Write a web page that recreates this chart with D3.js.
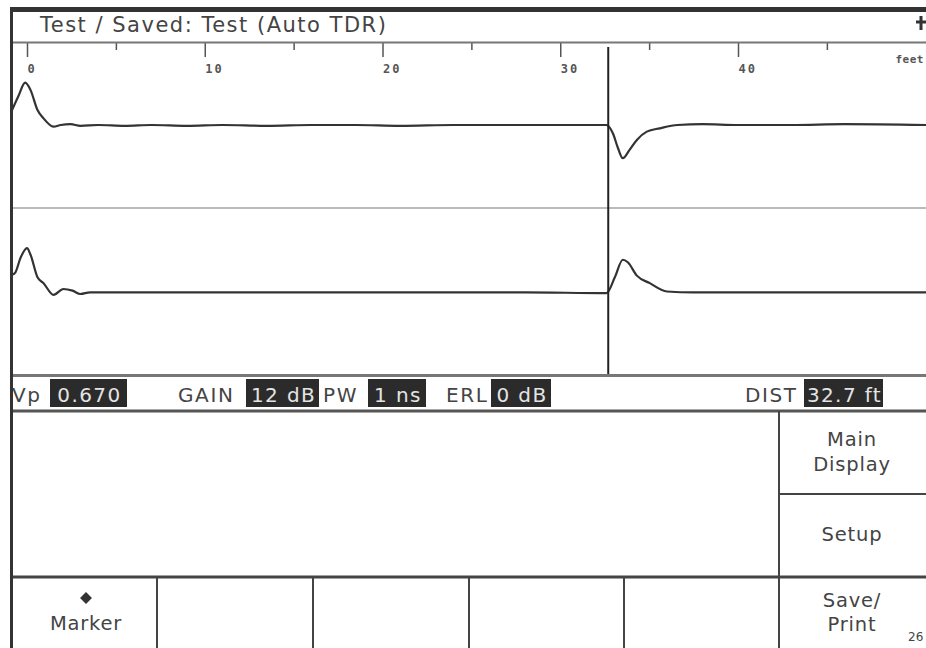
<!DOCTYPE html>
<html>
<head>
<meta charset="utf-8">
<script src="https://cdn.jsdelivr.net/npm/d3@7"></script>
<style>
  html, body { margin: 0; padding: 0; background: #fff; }
  svg { display: block; }
  .ui { font-family: "DejaVu Sans", sans-serif; fill: #444; }
  .tick text { font-family: "DejaVu Sans Mono", monospace; font-weight: bold; font-size: 12px; fill: #555; letter-spacing: 2px; }
</style>
</head>
<body>
<div id="chart"></div>
<script>
// distance axis (feet)
const majorTicks = [0, 10, 20, 30, 40];
const minorTicks = [5, 15, 25, 35, 45];
const cursorFt = 32.7;

// trace 1 (upper) : distance in ft, relative amplitude
const upperDist = [-0.84, -0.5, -0.1, 0.2, 0.59, 0.93, 1.49, 1.9, 2.45, 3.0, 4.0, 5.5, 7.0, 9.0, 11.0, 13.5, 16.0, 18.5, 21.0, 24.0, 27.0, 30.0, 32.6,
  32.96, 33.25, 33.52, 33.9, 34.31, 34.87, 35.6, 36.6, 38.0, 40.0, 43.0, 46.0, 50.6];
const upperAmp = [0.18, 0.34, 0.51, 0.42, 0.18, 0.08, -0.02, 0.0, 0.01, -0.01, 0.0, -0.01, 0.0, -0.01, 0.0, -0.01, 0.0, 0.0, -0.01, 0.0, 0.0, 0.0, 0.0,
  -0.10, -0.28, -0.40, -0.30, -0.18, -0.08, -0.04, 0.0, 0.01, 0.0, 0.0, 0.01, 0.0];

// trace 2 (lower)
const lowerDist = [-0.84, -0.65, -0.37, 0.0, 0.2, 0.59, 0.93, 1.49, 2.05, 2.56, 3.0, 3.55, 5.0, 8.0, 12.0, 16.0, 20.0, 24.0, 28.0, 32.6,
  33.07, 33.52, 33.8, 34.31, 35.04, 36.0, 37.5, 40.0, 44.0, 50.6];
const lowerAmp = [0.20, 0.23, 0.40, 0.52, 0.44, 0.17, 0.10, -0.04, 0.03, 0.01, -0.03, -0.01, -0.01, -0.01, -0.01, -0.01, -0.01, -0.01, -0.01, -0.02,
  0.17, 0.38, 0.35, 0.19, 0.10, 0.0, -0.01, -0.01, -0.01, -0.01];

// status bar
const statusLabels = ['Vp', 'GAIN', 'PW', 'ERL', 'DIST'];
const statusValues = ['0.670', '12 dB', '1 ns', '0 dB', '32.7 ft'];

// soft keys
const sideKeys = [['Main', 'Display'], ['Setup'], ['Save/', 'Print']];
const bottomKeys = ['Marker', '', '', '', ''];

const W = 926, H = 648;
const svg = d3.select('#chart').append('svg')
  .attr('width', W).attr('height', H)
  .attr('xmlns', 'http://www.w3.org/2000/svg');

const x = d3.scaleLinear().domain([0, 40]).range([27, 738]);
const yUp = d3.scaleLinear().domain([-1, 1]).range([208, 42]);
const yLo = d3.scaleLinear().domain([-1, 1]).range([375, 208]);

const frame = '#333';

// title bar
svg.append('text').attr('class', 'ui')
  .attr('x', 40).attr('y', 32)
  .attr('font-size', 21).attr('letter-spacing', 1.5)
  .text('Test / Saved: Test (Auto TDR)');
svg.append('path').attr('d', 'M916,22H926M921,16V30')
  .attr('stroke', frame).attr('stroke-width', 3);

// plot separators
svg.append('line').attr('x1', 12).attr('x2', W).attr('y1', 208).attr('y2', 208)
  .attr('stroke', '#bbb').attr('stroke-width', 2);

// distance axis
const axMajor = svg.append('g').attr('transform', 'translate(0,42)')
  .call(d3.axisBottom(x).tickValues(majorTicks).tickSize(15).tickFormat(d3.format('d')));
axMajor.selectAll('.tick text').attr('text-anchor', 'start').attr('x', 0).attr('y', 31).attr('dy', 0);
const axMinor = svg.append('g').attr('transform', 'translate(0,42)')
  .call(d3.axisBottom(x).tickValues(minorTicks).tickSize(8).tickFormat(''));
[axMajor, axMinor].forEach(g => {
  g.select('.domain').remove();
  g.selectAll('.tick line').attr('stroke', '#555').attr('stroke-width', 1.5);
});
svg.append('text').attr('x', 924).attr('y', 63).attr('text-anchor', 'end')
  .attr('font-family', '"DejaVu Sans Mono", monospace').attr('font-weight', 'bold')
  .attr('font-size', 11).attr('letter-spacing', 0.5).attr('fill', '#555').text('feet');

// traces
const lineUp = d3.line().x((d, i) => x(upperDist[i])).y(d => yUp(d)).curve(d3.curveMonotoneX);
const lineLo = d3.line().x((d, i) => x(lowerDist[i])).y(d => yLo(d)).curve(d3.curveMonotoneX);
svg.append('path').attr('d', lineUp(upperAmp))
  .attr('fill', 'none').attr('stroke', '#333').attr('stroke-width', 2.2);
svg.append('path').attr('d', lineLo(lowerAmp))
  .attr('fill', 'none').attr('stroke', '#333').attr('stroke-width', 2.2);

// cursor
svg.append('line').attr('x1', x(cursorFt)).attr('x2', x(cursorFt))
  .attr('y1', 47).attr('y2', 375)
  .attr('stroke', '#222').attr('stroke-width', 2);

// status bar
const statusLayout = [
  { lx: 12, bx: 50, bw: 77 },
  { lx: 178, bx: 246, bw: 73 },
  { lx: 323, bx: 368, bw: 58 },
  { lx: 446, bx: 491, bw: 60 },
  { lx: 745, bx: 804, bw: 79 }
];
const st = svg.append('g');
statusLabels.forEach((lab, i) => {
  const p = statusLayout[i];
  st.append('text').attr('class', 'ui')
    .attr('x', p.lx).attr('y', 402).attr('font-size', 20).attr('letter-spacing', 1.6)
    .text(lab);
  st.append('rect').attr('x', p.bx).attr('y', 379).attr('width', p.bw).attr('height', 28)
    .attr('fill', '#2b2b2b');
  st.append('text').attr('class', 'ui')
    .attr('x', p.bx + p.bw / 2 + 1).attr('y', 402).attr('text-anchor', 'middle')
    .attr('font-size', 20).attr('letter-spacing', 1.4)
    .style('fill', '#e4e4e4')
    .text(statusValues[i]);
});

// frame lines
const hLines = [
  { y: 9.5, w: 5, c: '#333' },
  { y: 42.5, w: 2, c: '#777' },
  { y: 375.5, w: 3, c: '#777' },
  { y: 411, w: 3, c: '#555' },
  { y: 577, w: 3, c: '#444' }
];
hLines.forEach(l => svg.append('line').attr('x1', 10).attr('x2', W)
  .attr('y1', l.y).attr('y2', l.y).attr('stroke', l.c).attr('stroke-width', l.w));
svg.append('line').attr('x1', 779).attr('x2', W).attr('y1', 494).attr('y2', 494)
  .attr('stroke', '#444').attr('stroke-width', 2);
svg.append('line').attr('x1', 11.5).attr('x2', 11.5).attr('y1', 7).attr('y2', H)
  .attr('stroke', '#333').attr('stroke-width', 3);
[157, 313, 469, 624].forEach(vx => svg.append('line').attr('x1', vx).attr('x2', vx)
  .attr('y1', 577).attr('y2', H).attr('stroke', '#444').attr('stroke-width', 2));
svg.append('line').attr('x1', 779).attr('x2', 779).attr('y1', 411).attr('y2', H)
  .attr('stroke', '#444').attr('stroke-width', 2);

// soft key labels
const sideY = [[446, 471], [541], [607, 631]];
sideKeys.forEach((lines, i) => {
  lines.forEach((t, j) => svg.append('text').attr('class', 'ui')
    .attr('x', 852).attr('y', sideY[i][j]).attr('text-anchor', 'middle')
    .attr('font-size', 19.5).attr('letter-spacing', 0.8).text(t));
});
const keyCenters = [86, 235, 391, 546, 701];
bottomKeys.forEach((t, i) => {
  if (!t) return;
  svg.append('text').attr('class', 'ui')
    .attr('x', keyCenters[i]).attr('y', 630).attr('text-anchor', 'middle')
    .attr('font-size', 19.5).attr('letter-spacing', 0.8).text(t);
  svg.append('path').attr('d', d3.symbol(d3.symbolDiamond2, 90)())
    .attr('transform', `translate(${keyCenters[i]},598)`)
    .attr('fill', '#333');
});
svg.append('text').attr('class', 'ui').attr('x', 908).attr('y', 641)
  .attr('font-size', 12).text('26');
</script>
</body>
</html>
